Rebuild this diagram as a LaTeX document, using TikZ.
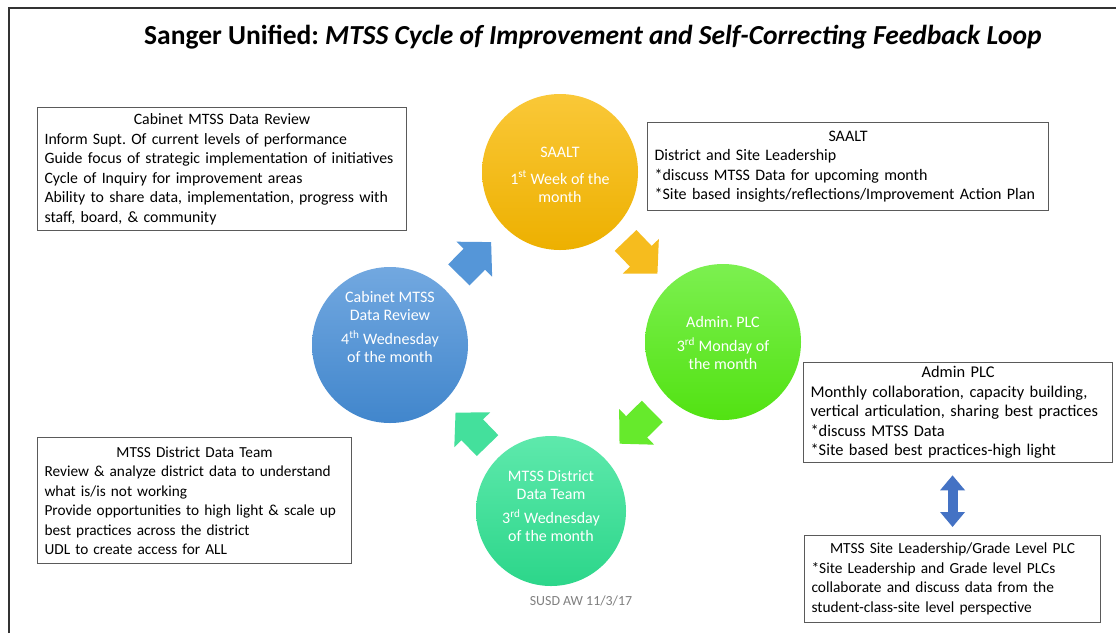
\documentclass[tikz,border=0pt]{standalone}
\usepackage{fontspec}
\setmainfont{Carlito}
\usetikzlibrary{calc,arrows.meta}
\setlength\parindent{0pt}
\frenchspacing
\definecolor{yelT}{HTML}{FAC838}
\definecolor{yelB}{HTML}{EDB000}
\definecolor{yelA}{HTML}{F6BC1E}
\definecolor{grnT}{HTML}{7CF050}
\definecolor{grnB}{HTML}{52E212}
\definecolor{grnA}{HTML}{66EA2C}
\definecolor{bluT}{HTML}{72A8E0}
\definecolor{bluB}{HTML}{4186CC}
\definecolor{bluA}{HTML}{5596D8}
\definecolor{tealT}{HTML}{5EE9AC}
\definecolor{tealB}{HTML}{2CD68A}
\definecolor{tealA}{HTML}{44E09C}
\definecolor{dblue}{HTML}{4472C4}
\definecolor{boxline}{HTML}{5A5A5A}
\tikzset{
  tbox/.style={draw=boxline, line width=1.1pt, fill=white, anchor=north west,
    align=left, inner xsep=7pt, inner ysep=4pt,
    font=\fontsize{#1}{19.5}\selectfont},
  cyc/.style={circle, minimum size=156pt, inner sep=0pt, shading=axis},
  ctext/.style={text=white, align=center, font=\fontsize{16}{18.3}\selectfont},
  pics/blockarrow/.style={code={
    \fill[#1] (-23pt,-15pt) -- (-1pt,-15pt) -- (-1pt,-25pt) -- (23pt,0pt)
      -- (-1pt,25pt) -- (-1pt,15pt) -- (-23pt,15pt) -- cycle;}}
}
\begin{document}
\begin{tikzpicture}[x=1pt,y=-1pt]
\useasboundingbox (0,0) rectangle (1116,633);
\fill[white] (0,0) rectangle (1116,633);
\draw[line width=1.6pt, black!80] (9,633) -- (9,8) -- (1116,8);

\node[font=\fontsize{27.5}{32}\selectfont\bfseries] (title) at (593,37)
  {Sanger Unified: \textit{MTSS Cycle of Improvement and Self-Correcting Feedback Loop}};

% circles
\node[cyc, top color=yelT, bottom color=yelB] (saalt) at (560,172) {};
\node[cyc, top color=grnT, bottom color=grnB] (admin) at (723,342) {};
\node[cyc, top color=bluT, bottom color=bluB] (cab) at (390,345) {};
\node[cyc, top color=tealT, bottom color=tealB, minimum size=150pt] (mtss) at (551,511) {};

\node[ctext] (saaltt) at ($(saalt)+(0,3)$) {SAALT\\[8pt]1\textsuperscript{st} Week of the\\month};
\node[ctext] (admint) at ($(admin)+(0,1)$) {Admin. PLC\\[6pt]3\textsuperscript{rd} Monday of\\the month};
\node[ctext] (cabt) at ($(cab)+(0,-18)$) {Cabinet MTSS\\Data Review\\[6pt]4\textsuperscript{th} Wednesday\\of the month};
\node[ctext] (mtsst) at ($(mtss)+(0,-5)$) {MTSS District\\Data Team\\[6pt]3\textsuperscript{rd} Wednesday\\of the month};

% cycle arrows
\path (cab) -- (saalt) pic[pos=0.5, sloped, allow upside down] {blockarrow=bluA};
\path (saalt) -- (admin) pic[pos=0.5, sloped, allow upside down] {blockarrow=yelA};
\path (admin) -- (mtss) pic[pos=0.5, sloped, allow upside down] {blockarrow=grnA};
\path (mtss) -- (cab) pic[pos=0.5, sloped, allow upside down] {blockarrow=tealA};

% text boxes
\node[tbox=15.8, text width=355pt, minimum height=123pt] (cabbox) at (37,107)
 {{\centering Cabinet MTSS Data Review\par}
  Inform Supt. Of current levels of performance\\
  Guide focus of strategic implementation of initiatives\\
  Cycle of Inquiry for improvement areas\\
  Ability to share data, implementation, progress with\\
  staff, board, \& community};

\node[tbox=16, text width=387pt, minimum height=88pt] (saaltbox) at (647,122)
 {{\centering SAALT\par}
  District and Site Leadership\\
  {}*discuss MTSS Data for upcoming month\\
  {}*Site based insights/reflections/Improvement Action Plan};

\node[tbox=16.4, text width=295pt, minimum height=100pt] (adminbox) at (803,362)
 {{\centering Admin PLC\par}
  Monthly collaboration, capacity building,\\
  vertical articulation, sharing best practices\\
  {}*discuss MTSS Data\\
  {}*Site based best practices-high light};

\node[tbox=15.3, text width=300pt, minimum height=126pt] (mtssbox) at (37,437)
 {{\centering MTSS District Data Team\par}
  Review \& analyze district data to understand\\
  what is/is not working\\
  Provide opportunities to high light \& scale up\\
  best practices across the district\\
  UDL to create access for ALL};

\node[tbox=15.4, text width=282pt, minimum height=87pt] (sitebox) at (804,535)
 {{\centering MTSS Site Leadership/Grade Level PLC\par}
  {}*Site Leadership and Grade level PLCs\\
  collaborate and discuss data from the\\
  student-class-site level perspective};

\draw[dblue, line width=10pt, {Triangle[width=24pt,length=15pt]}-{Triangle[width=24pt,length=15pt]},
  shorten <=12pt, shorten >=8pt]
  (sitebox.north |- adminbox.south) -- (sitebox.north);

\node[text=black!50, font=\fontsize{13.9}{16}\selectfont] (sig) at (581,601) {SUSD AW 11/3/17};
\end{tikzpicture}
\end{document}
